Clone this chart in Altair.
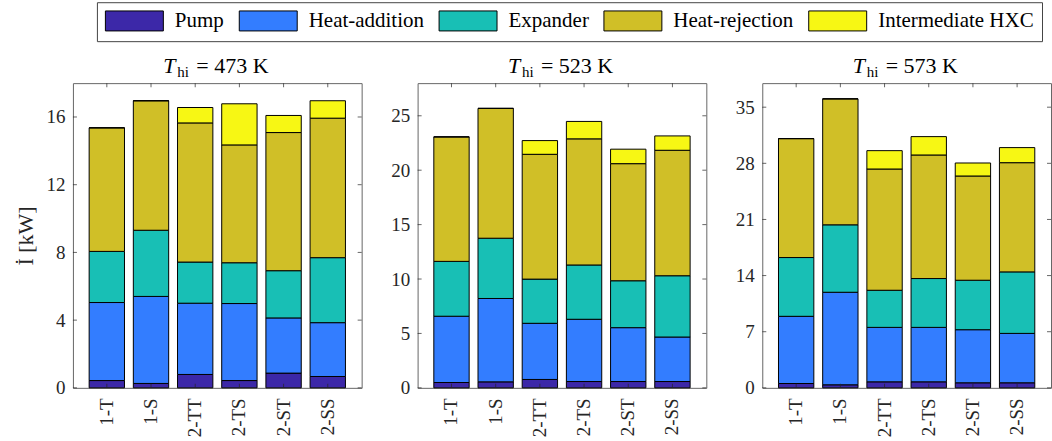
import altair as alt
import pandas as pd

categories = ["1-T", "1-S", "2-TT", "2-TS", "2-ST", "2-SS"]
components = ["Pump", "Heat-addition", "Expander", "Heat-rejection", "Intermediate HXC"]
colors = ["#3c28a8", "#337dff", "#18bfb5", "#d0bf27", "#f7f714"]

titles = ["473", "523", "573"]

# Component exergy destruction [kW], per configuration (order of categories)
pump_473 = [0.43, 0.26, 0.79, 0.43, 0.87, 0.67]
heat_add_473 = [4.61, 5.14, 4.21, 4.55, 3.26, 3.18]
expander_473 = [3.02, 3.91, 2.43, 2.41, 2.79, 3.84]
heat_rej_473 = [7.30, 7.65, 8.22, 6.96, 8.16, 8.24]
ihxc_473 = [0.0, 0.0, 0.91, 2.43, 1.01, 1.03]

pump_523 = [0.49, 0.55, 0.77, 0.58, 0.58, 0.58]
heat_add_523 = [6.09, 7.66, 5.16, 5.72, 4.95, 4.09]
expander_523 = [5.04, 5.54, 4.06, 4.99, 4.31, 5.63]
heat_rej_523 = [11.44, 11.93, 11.47, 11.59, 10.76, 11.53]
ihxc_523 = [0.0, 0.0, 1.26, 1.60, 1.33, 1.32]

pump_573 = [0.54, 0.38, 0.75, 0.75, 0.63, 0.63]
heat_add_573 = [8.38, 11.54, 6.79, 6.79, 6.62, 6.16]
expander_573 = [7.33, 8.41, 4.63, 6.09, 6.17, 7.67]
heat_rej_573 = [14.83, 15.71, 15.12, 15.41, 13.00, 13.62]
ihxc_573 = [0.0, 0.0, 2.29, 2.29, 1.62, 1.88]

y_max = [18, 28, 38]
y_ticks = [[0, 4, 8, 12, 16], [0, 5, 10, 15, 20, 25], [0, 7, 14, 21, 28, 35]]

series = [
    [pump_473, heat_add_473, expander_473, heat_rej_473, ihxc_473],
    [pump_523, heat_add_523, expander_523, heat_rej_523, ihxc_523],
    [pump_573, heat_add_573, expander_573, heat_rej_573, ihxc_573],
]

FONT = "Liberation Serif"
W, H = 289, 305


def panel(i):
    rows = []
    for ci, comp in enumerate(components):
        for k, cat in enumerate(categories):
            rows.append({"cat": cat, "comp": comp, "value": series[i][ci][k], "ord": ci})
    df = pd.DataFrame(rows)
    yscale = alt.Scale(domain=[0, y_max[i]], nice=False, zero=True)
    xscale = alt.Scale(domain=categories, paddingInner=0.2, paddingOuter=0.367)

    yaxis = alt.Axis(
        values=y_ticks[i], grid=False, domain=False, ticks=False, tickSize=0,
        labelFont=FONT, labelFontSize=19, labelColor="#262626", labelPadding=8,
        title="İ [kW]" if i == 0 else None,
        titleFont=FONT, titleFontSize=22, titleFontWeight="normal",
        titleColor="#262626", titlePadding=8,
    )
    xaxis = alt.Axis(
        title=None, grid=False, domain=False, ticks=False, tickSize=0,
        labelAngle=270, labelFont=FONT, labelFontSize=19, labelColor="#262626",
        labelPadding=10,
    )

    bars = alt.Chart(df).mark_bar(stroke="black", strokeWidth=1).encode(
        x=alt.X("cat:N", sort=categories, scale=xscale, axis=xaxis),
        y=alt.Y("value:Q", stack="zero", scale=yscale, axis=yaxis),
        color=alt.Color(
            "comp:N",
            scale=alt.Scale(domain=components, range=colors),
            legend=alt.Legend(title=None),
        ),
        order=alt.Order("ord:Q"),
    )

    tdf = pd.DataFrame({"tick": y_ticks[i]})
    yl = alt.Chart(tdf).mark_tick(color="#262626", thickness=1, size=4, orient="horizontal").encode(
        y=alt.Y("tick:Q", scale=yscale, axis=yaxis), x=alt.value(2)
    )
    yr = alt.Chart(tdf).mark_tick(color="#262626", thickness=1, size=4, orient="horizontal").encode(
        y=alt.Y("tick:Q", scale=yscale, axis=yaxis), x=alt.value(W - 2)
    )
    cdf = pd.DataFrame({"cat": categories})
    xt = alt.Chart(cdf).mark_tick(color="#262626", thickness=1, size=4, orient="vertical").encode(
        x=alt.X("cat:N", sort=categories, scale=xscale, axis=xaxis), y=alt.value(2)
    )
    xb = alt.Chart(cdf).mark_tick(color="#262626", thickness=1, size=4, orient="vertical").encode(
        x=alt.X("cat:N", sort=categories, scale=xscale, axis=xaxis), y=alt.value(H - 2)
    )

    one = pd.DataFrame({"k": [0]})
    cx = W / 2
    t1 = alt.Chart(one).mark_text(
        font=FONT, fontSize=22, fontStyle="italic", align="left", baseline="alphabetic", color="black"
    ).encode(text=alt.value("T"), x=alt.value(cx - 54), y=alt.value(-10))
    t2 = alt.Chart(one).mark_text(
        font=FONT, fontSize=15, align="left", baseline="alphabetic", color="black"
    ).encode(text=alt.value("hi"), x=alt.value(cx - 40), y=alt.value(-6))
    t3 = alt.Chart(one).mark_text(
        font=FONT, fontSize=22, align="left", baseline="alphabetic", color="black"
    ).encode(text=alt.value(f"= {titles[i]} K"), x=alt.value(cx - 21), y=alt.value(-10))

    return alt.layer(bars, yl, yr, xt, xb, t1, t2, t3).properties(width=W, height=H)


chart = alt.hconcat(panel(0), panel(1), panel(2), spacing=27).resolve_scale(
    x="independent", y="independent"
).properties(
    padding={"left": 14, "top": 1, "right": 0, "bottom": 0}
).configure_view(
    stroke="#666666", strokeWidth=1
).configure_legend(
    orient="none", legendX=24, legendY=-81, direction="horizontal", columns=5,
    symbolType="M-2.9,-1H2.9V1H-2.9Z", symbolSize=400, symbolOffset=19,
    symbolStrokeColor="black", symbolStrokeWidth=1, symbolOpacity=1,
    labelFont=FONT, labelFontSize=21, labelColor="black", labelOffset=30,
    columnPadding=12, padding=8, strokeColor="#444444", fillColor="white",
    labelLimit=400,
)

chart.save("out.html", embed_options={"renderer": "svg", "actions": False})
